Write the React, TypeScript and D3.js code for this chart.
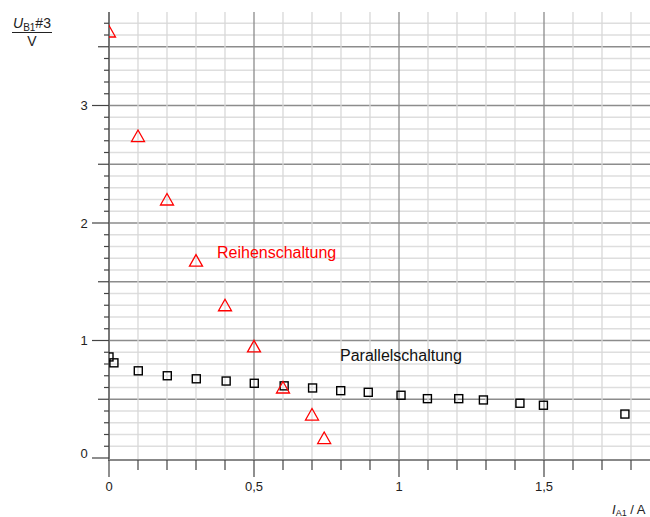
import React from "react";
import * as d3 from "d3";

const W = 650;
const H = 517;

// Reihenschaltung (triangles)
const reiheI = [0, 0.1, 0.2, 0.3, 0.4, 0.5, 0.6, 0.7, 0.742];
const reiheU = [3.63, 2.74, 2.20, 1.68, 1.30, 0.95, 0.60, 0.37, 0.17];

// Parallelschaltung (squares)
const paraI = [0, 0.017, 0.101, 0.201, 0.301, 0.404, 0.501, 0.604, 0.702, 0.799, 0.894, 1.007, 1.098, 1.206, 1.291, 1.417, 1.498, 1.779];
const paraU = [0.86, 0.81, 0.742, 0.70, 0.674, 0.655, 0.636, 0.614, 0.596, 0.573, 0.559, 0.534, 0.505, 0.505, 0.494, 0.466, 0.449, 0.374];

const xTickValues = [0, 0.5, 1, 1.5];
const xTickLabels = ["0", "0,5", "1", "1,5"];
const yTickValues = [0, 1, 2, 3];
const yTickLabels = ["0", "1", "2", "3"];

const FONT = "Liberation Sans, Arial, sans-serif";

export default function App() {
  const x = d3.scaleLinear().domain([0, 1.8]).range([109, 631]);
  const y = d3.scaleLinear().domain([0, 3.8]).range([458, 11.5]);
  const left = 109;
  const right = W;
  const top = 12;
  const axisY = 460;

  const xGrid = d3.range(1, 19).map((i) => i / 10);
  const yGrid = d3.range(1, 38).map((i) => i / 10);
  const yMinor = d3.range(0, 38).map((i) => i / 10);
  const xMinor = d3.range(0, 19).map((i) => i / 10);

  const isHalf = (v: number) => Math.abs(v * 2 - Math.round(v * 2)) < 1e-6;
  const isInt = (v: number) => Math.abs(v - Math.round(v)) < 1e-6;

  const tri = (cx: number, cy: number) => {
    const w = 6.5;
    return `M${cx - w},${cy + 5.5}L${cx + w},${cy + 5.5}L${cx},${cy - 6}Z`;
  };

  return (
    <svg
      width={W}
      height={H}
      style={{ position: "absolute", left: 0, top: 0, background: "#fff" }}
      fontFamily={FONT}
    >
      <defs>
        <clipPath id="plot">
          <rect x={left} y={top} width={right - left} height={axisY - top} />
        </clipPath>
      </defs>
      {/* grid */}
      {yGrid.map((v) => (
        <line
          key={"hy" + v}
          x1={left}
          x2={right}
          y1={y(v)}
          y2={y(v)}
          stroke={isHalf(v) ? "#8c8c8c" : "#dedede"}
          strokeWidth={1.3}
        />
      ))}
      {xGrid.map((v) => (
        <line
          key={"vx" + v}
          x1={x(v)}
          x2={x(v)}
          y1={top}
          y2={axisY}
          stroke={isHalf(v) ? "#8c8c8c" : "#d8d8d8"}
          strokeWidth={1.3}
        />
      ))}
      {/* axes */}
      <line x1={left} x2={left} y1={top} y2={axisY + 1} stroke="#777" strokeWidth={2} />
      <line x1={left} x2={right} y1={axisY} y2={axisY} stroke="#888" strokeWidth={2} />
      {/* y ticks */}
      {yMinor.map((v) => {
        const len = isInt(v) ? 17 : isHalf(v) ? 11 : 5;
        return (
          <line
            key={"yt" + v}
            x1={left - len}
            x2={left}
            y1={y(v)}
            y2={y(v)}
            stroke="#444"
            strokeWidth={1.2}
          />
        );
      })}
      {/* x ticks */}
      {xMinor.map((v) => {
        const len = isHalf(v) ? 17 : 10;
        return (
          <line
            key={"xt" + v}
            x1={x(v)}
            x2={x(v)}
            y1={axisY}
            y2={axisY + len}
            stroke="#444"
            strokeWidth={1.2}
          />
        );
      })}
      {/* tick labels */}
      {yTickValues.map((v, i) => (
        <text
          key={"yl" + v}
          x={84}
          y={v === 0 ? y(v) - 5 : y(v)}
          textAnchor="middle"
          dominantBaseline="central"
          fontSize={13}
          fill="#222"
        >
          {yTickLabels[i]}
        </text>
      ))}
      {xTickValues.map((v, i) => (
        <text
          key={"xl" + v}
          x={x(v)}
          y={491}
          textAnchor="middle"
          fontSize={13}
          fill="#222"
        >
          {xTickLabels[i]}
        </text>
      ))}
      {/* axis titles */}
      <text x={13} y={28} fontSize={14} fill="#222">
        <tspan fontStyle="italic">U</tspan>
        <tspan fontSize={10} dy={2.5}>B1</tspan>
        <tspan dy={-2.5}>#3</tspan>
      </text>
      <line x1={12} x2={52} y1={32.5} y2={32.5} stroke="#222" strokeWidth={1} />
      <text x={32} y={46} fontSize={14} textAnchor="middle" fill="#222">
        V
      </text>
      <text x={612} y={514} fontSize={13} fill="#222">
        <tspan fontStyle="italic">I</tspan>
        <tspan fontSize={9} dy={1.5}>A1</tspan>
        <tspan dy={-1.5}> / A</tspan>
      </text>
      {/* annotations */}
      <text x={217} y={258} fontSize={16} fill="#ff0000">
        Reihenschaltung
      </text>
      <text x={340} y={361} fontSize={16} fill="#111">
        Parallelschaltung
      </text>
      {/* markers */}
      <g clipPath="url(#plot)">
        {paraI.map((v, i) => (
          <rect
            key={"sq" + i}
            x={x(v) - 4}
            y={y(paraU[i]) - 4}
            width={8}
            height={8}
            fill="none"
            stroke="#000"
            strokeWidth={1.4}
          />
        ))}
        {reiheI.map((v, i) => (
          <path
            key={"tr" + i}
            d={tri(x(v), y(reiheU[i]))}
            fill="none"
            stroke="#ff0000"
            strokeWidth={1.3}
          />
        ))}
      </g>
    </svg>
  );
}
